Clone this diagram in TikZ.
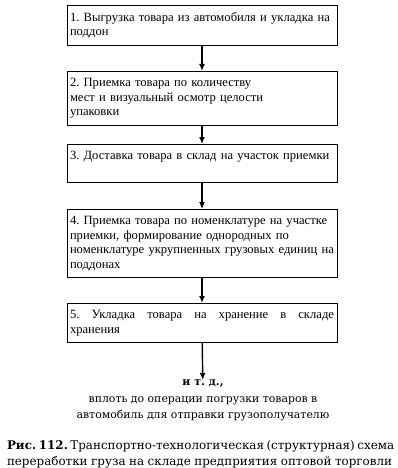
\documentclass[tikz,border=0pt]{standalone}
\usepackage{fontspec}
\setmainfont{Liberation Serif}
\newfontfamily\notefont{DejaVu Serif}
\usetikzlibrary{arrows.meta,positioning}
\frenchspacing

\begin{document}
\begin{tikzpicture}[x=1pt,y=-1pt,
    stepbox/.style={draw,line width=0.8pt,anchor=north,text width=264pt,
                    inner xsep=3pt,inner ysep=7pt,align=left,
                    font=\fontsize{12.6}{14.5}\selectfont},
    flow/.style={-{Latex[length=7pt,width=6pt]},line width=1.4pt}]

  \useasboundingbox (0,0) rectangle (398,468);

  % Operation boxes (top to bottom)
  \node[stepbox] (unload) at (202,5)
    {1. Выгрузка товара из автомобиля и укладка на\\поддон};
  \node[stepbox] (count) at (202,71)
    {2. Приемка товара по количеству\\мест и визуальный осмотр целости\\упаковки};
  \node[stepbox] (deliver) at (202,144)
    {\parbox[b][24pt][t]{264pt}{3. Доставка товара в склад на участок приемки}};
  \node[stepbox] (nomencl) at (202,209)
    {4. Приемка товара по номенклатуре на участке\\приемки, формирование однородных по\\номенклатуре укрупненных грузовых единиц на\\поддонах};
  \node[stepbox,align=justify] (store) at (202,303)
    {\makebox[264pt][s]{5. Укладка товара на хранение в складе}\\хранения};

  % Continuation text
  \node[anchor=north,align=center,inner sep=0pt,
        font=\notefont\fontsize{10.9}{16.5}\selectfont] (etc) at (203,380)
    {\textbf{и т. д.,}\\вплоть до операции погрузки товаров в\\автомобиль для отправки грузополучателю};

  % Arrows between operations
  \draw[flow] (unload) -- (count);
  \draw[flow] (count) -- (deliver);
  \draw[flow] (deliver) -- (nomencl);
  \draw[flow] (nomencl) -- (store);
  \draw[flow] (store) -- (etc);

  % Figure caption
  \node[anchor=north,align=left,inner sep=0pt,
        font=\notefont\fontsize{11.9}{16}\selectfont] (caption) at (199.5,440)
    {\makebox[385pt][s]{\textbf{Рис. 112.} Транспортно-технологическая (структурная) схема}\\
     \makebox[385pt][s]{переработки груза на складе предприятия оптовой торговли}};

\end{tikzpicture}
\end{document}
